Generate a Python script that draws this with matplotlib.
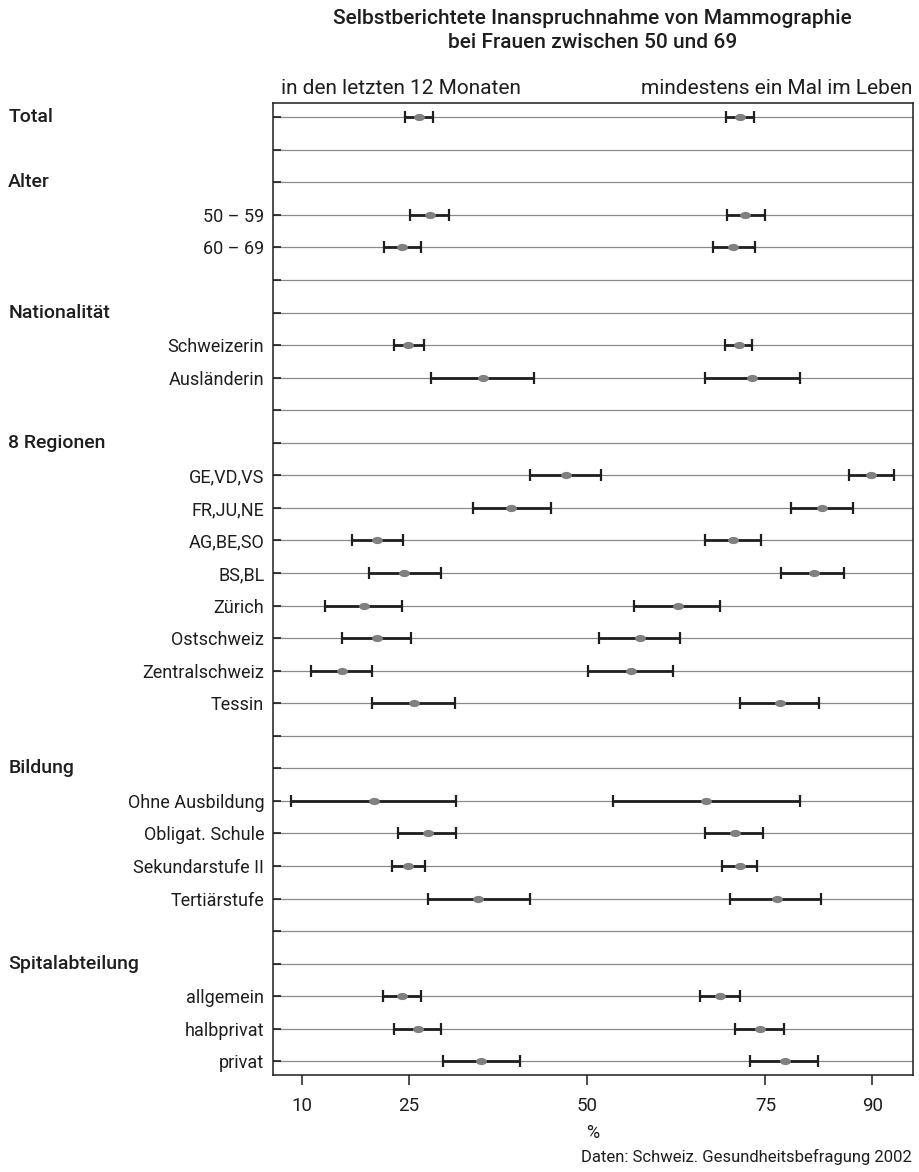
import numpy as np
import matplotlib
matplotlib.use('Agg')
import matplotlib.pyplot as plt
from matplotlib.markers import MarkerStyle
from matplotlib.transforms import Affine2D, blended_transform_factory

plt.rcParams['font.family'] = ['Roboto', 'DejaVu Sans']

# groups: header, items (Total sits on its own header row)
groups = [
    ('Alter', ['50 – 59', '60 – 69']),
    ('Nationalität', ['Schweizerin', 'Ausländerin']),
    ('8 Regionen', ['GE,VD,VS', 'FR,JU,NE', 'AG,BE,SO', 'BS,BL', 'Zürich',
                    'Ostschweiz', 'Zentralschweiz', 'Tessin']),
    ('Bildung', ['Ohne Ausbildung', 'Obligat. Schule', 'Sekundarstufe II',
                 'Tertiärstufe']),
    ('Spitalabteilung', ['allgemein', 'halbprivat', 'privat']),
]

# last 12 months: estimate, lower, upper (Total first, then items in order)
m12_mid = [26.5, 28.0, 24.1, 24.9, 35.4, 47.1, 39.3, 20.6, 24.4, 18.8, 20.5,
           15.6, 25.7, 20.1, 27.7, 24.9, 34.7, 24.0, 26.3, 35.2]
m12_lo = [24.5, 25.2, 21.5, 23.0, 28.1, 42.0, 34.0, 17.0, 19.5, 13.3, 15.7,
          11.3, 19.8, 8.5, 23.5, 22.7, 27.7, 21.4, 22.9, 29.8]
m12_hi = [28.4, 30.6, 26.7, 27.1, 42.6, 52.0, 44.9, 24.2, 29.5, 24.1, 25.3,
          19.8, 31.5, 31.6, 31.6, 27.3, 42.0, 26.7, 29.5, 40.6]

# at least once in life
ever_mid = [71.5, 72.2, 70.5, 71.3, 73.2, 89.8, 82.9, 70.5, 81.8, 62.7, 57.5,
            56.1, 77.0, 66.7, 70.7, 71.4, 76.6, 68.6, 74.2, 77.7]
ever_lo = [69.5, 69.6, 67.7, 69.3, 66.6, 86.8, 78.6, 66.5, 77.2, 56.6, 51.7,
           50.2, 71.4, 53.6, 66.6, 68.9, 70.1, 65.8, 70.8, 72.9]
ever_hi = [73.4, 74.9, 73.5, 73.2, 79.9, 93.0, 87.3, 74.4, 86.1, 68.7, 63.1,
           62.0, 82.5, 79.9, 74.7, 73.8, 82.8, 71.4, 77.6, 82.4]

xticks = [10, 25, 50, 75, 90]

# row layout: Total, blank, then header + items + blank for every group
headers = [('Total', 0)]
data_rows = [0]
tick_labels = {}
row = 2
for name, items in groups:
    headers.append((name, row))
    row += 1
    for it in items:
        data_rows.append(row)
        tick_labels[row] = it
        row += 1
    row += 1
n_rows = row - 1

fig = plt.figure(figsize=(9.19, 11.72), dpi=100)
ax = fig.add_axes([0.2967, 0.0828, 0.6965, 0.8291])

dark = '#1e1e1e'
for r in range(n_rows):
    ax.axhline(r, color='#8a8a8a', lw=0.9, zorder=1)

ellipse = MarkerStyle('o', transform=Affine2D().scale(1.5, 1.0))
y = np.array(data_rows)
for mid, lo, hi in [(m12_mid, m12_lo, m12_hi), (ever_mid, ever_lo, ever_hi)]:
    mid = np.array(mid)
    err = [mid - np.array(lo), np.array(hi) - mid]
    ax.errorbar(mid, y, xerr=err, fmt='none', ecolor=dark, elinewidth=2.0,
                capsize=4.6, capthick=1.6, zorder=3)
    ax.plot(mid, y, linestyle='none', marker=ellipse, ms=5.2,
            color='#808080', mec='none', zorder=4)

ax.set_xlim(5.93, 95.67)
ax.set_ylim(n_rows - 1 + 0.42, -0.43)
ax.set_xticks(xticks)
ax.set_xticklabels([str(t) for t in xticks], fontsize=13.5, color=dark)
ax.tick_params(axis='x', direction='out', length=7, width=1.1, color=dark, pad=9)

ax.set_yticks(range(n_rows))
ax.set_yticklabels([tick_labels.get(r, '') for r in range(n_rows)],
                   fontsize=13, color=dark)
ax.tick_params(axis='y', direction='in', length=6, width=1.2, color=dark, pad=6)

for s in ax.spines.values():
    s.set_color(dark)
    s.set_linewidth(1.1)

ax.set_xlabel('%', fontsize=13, color=dark, labelpad=6)

trans = blended_transform_factory(fig.transFigure, ax.transData)
for name, r in headers:
    ax.text(0.009, r, name, transform=trans, ha='left', va='center',
            fontsize=14, fontweight='medium', color=dark)

cx = (0.2967 + 0.2967 + 0.6965) / 2
fig.text(cx, 1 - 18 / 1172, 'Selbstberichtete Inanspruchnahme von Mammographie',
         ha='center', va='center', fontsize=15, fontweight='medium', color=dark)
fig.text(cx, 1 - 43 / 1172, 'bei Frauen zwischen 50 und 69',
         ha='center', va='center', fontsize=15, fontweight='medium', color=dark)
fig.text(281 / 919, 1 - 88 / 1172, 'in den letzten 12 Monaten',
         ha='left', va='center', fontsize=15, color=dark)
fig.text(912 / 919, 1 - 88 / 1172, 'mindestens ein Mal im Leben',
         ha='right', va='center', fontsize=15, color=dark)
fig.text(912 / 919, 1 - 1157 / 1172, 'Daten: Schweiz. Gesundheitsbefragung 2002',
         ha='right', va='center', fontsize=12, color=dark)

fig.savefig('out.png', dpi=100, facecolor='white')
